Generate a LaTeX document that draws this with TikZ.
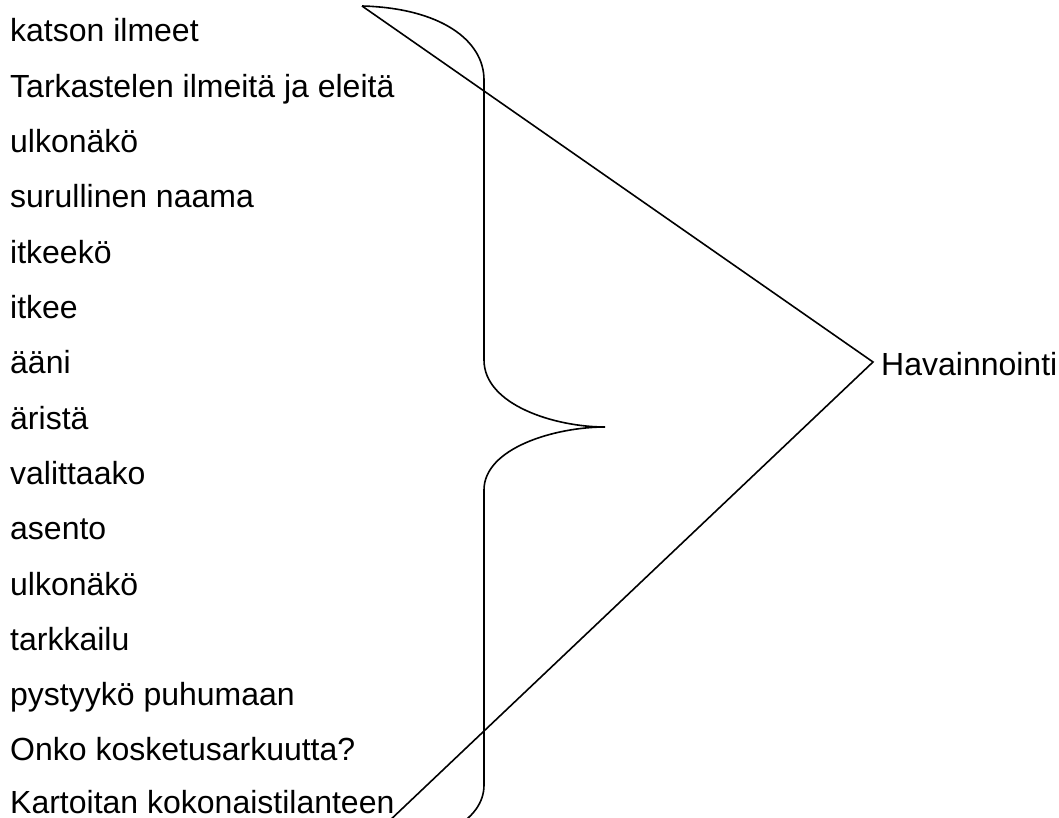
\documentclass[tikz,border=0pt]{standalone}
\usepackage{fontspec}
\setmainfont{Liberation Sans}
\begin{document}
\begin{tikzpicture}[x=1pt,y=-1pt,
  item/.style={anchor=base west,inner sep=0pt,text depth=0pt,font=\fontsize{32}{38}\selectfont},
  stroke/.style={line width=1.6pt,black}]
\useasboundingbox (0,0) rectangle (1059,818);
\clip (0,0) rectangle (1059,818);
\foreach \t [count=\i from 0] in {katson ilmeet,Tarkastelen ilmeitä ja eleitä,ulkonäkö,surullinen naama,itkeekö,itkee,ääni,äristä,valittaako,asento,ulkonäkö,tarkkailu,pystyykö puhumaan,Onko kosketusarkuutta?}{
  \node[item] (l\i) at (10,{42+55.3*\i}) {\t};
}
\node[item] (l14) at (10,813) {Kartoitan kokonaistilanteen};
\node[item] (hav) at (881,375) {Havainnointi};
\coordinate (top) at (362,6);
\coordinate (J) at (873,362);
\coordinate (bot) at (386,824);
\draw[stroke] (top) .. controls (440,8) and (484,40) .. (484,80) -- (484,360)
  .. controls (484,405) and (555,427) .. (605,427)
  .. controls (555,427) and (484,448) .. (484,490) -- (484,785)
  .. controls (484,820) and (440,846) .. (362,848);
\draw[stroke] (top) -- (J) -- (bot);
\end{tikzpicture}
\end{document}
